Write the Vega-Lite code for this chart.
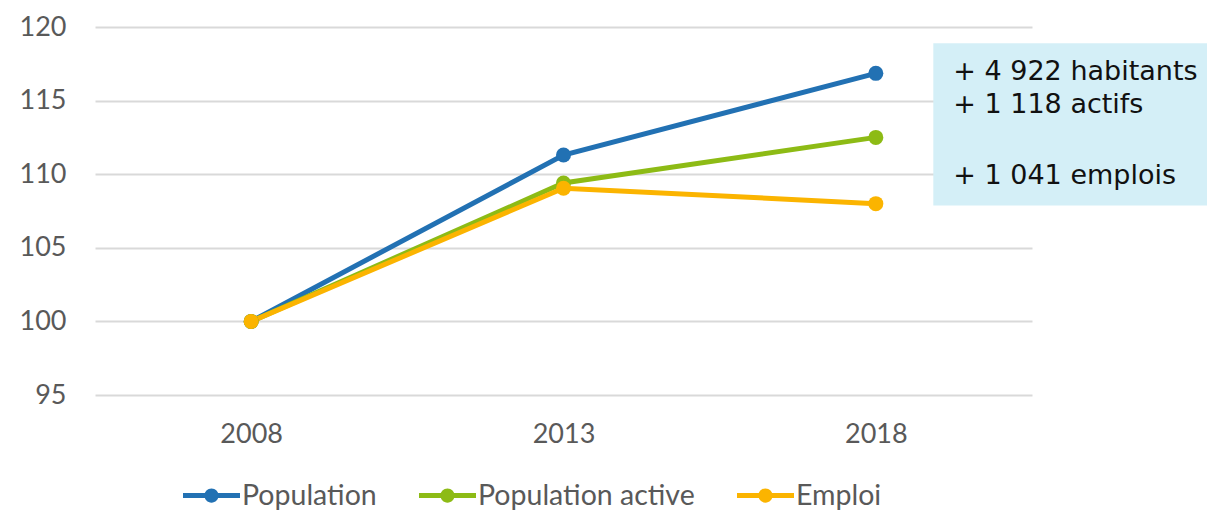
{
  "$schema": "https://vega.github.io/schema/vega-lite/v6.json",
  "width": 937,
  "height": 368,
  "autosize": {"type": "none"},
  "padding": {"left": 95, "top": 27, "right": 175, "bottom": 116},
  "background": "white",
  "config": {
    "view": {"stroke": null},
    "font": "Lato"
  },
  "datasets": {
    "series": [
      {"annee": 2008, "serie": "Population", "indice": 100},
      {"annee": 2013, "serie": "Population", "indice": 111.3},
      {"annee": 2018, "serie": "Population", "indice": 116.85},
      {"annee": 2008, "serie": "Population active", "indice": 100},
      {"annee": 2013, "serie": "Population active", "indice": 109.4},
      {"annee": 2018, "serie": "Population active", "indice": 112.5},
      {"annee": 2008, "serie": "Emploi", "indice": 100},
      {"annee": 2013, "serie": "Emploi", "indice": 109.05},
      {"annee": 2018, "serie": "Emploi", "indice": 108.0}
    ],
    "box": [
      {"x1": 2018.92, "x2": 2023.6, "y1": 107.88, "y2": 118.9}
    ],
    "notes": [
      {"x": 2019.24, "y": 116.92, "texte": "+ 4 922 habitants"},
      {"x": 2019.24, "y": 114.67, "texte": "+ 1 118 actifs"},
      {"x": 2019.24, "y": 109.85, "texte": "+ 1 041 emplois"}
    ]
  },
  "layer": [
    {
      "data": {"name": "box"},
      "mark": {"type": "rect", "fill": "#D4EFF7", "clip": false},
      "encoding": {
        "x": {"field": "x1", "type": "quantitative", "scale": {"domain": [2005.5, 2020.5], "nice": false, "zero": false},
          "axis": {"values": [2008, 2013, 2018], "format": "d", "title": null, "grid": false, "domain": false, "ticks": false,
            "labelFontSize": 27, "labelColor": "#595959", "labelPadding": 26, "labelFont": "Lato"}},
        "x2": {"field": "x2"},
        "y": {"field": "y1", "type": "quantitative", "scale": {"domain": [95, 120], "nice": false, "zero": false},
          "axis": {"values": [95, 100, 105, 110, 115, 120], "title": null, "grid": true, "gridColor": "#d9d9d9", "gridWidth": 2,
            "domain": false, "ticks": false, "labelFontSize": 27, "labelColor": "#595959", "labelPadding": 29, "labelFont": "Lato"}},
        "y2": {"field": "y2"}
      }
    },
    {
      "data": {"name": "notes"},
      "mark": {"type": "text", "align": "left", "baseline": "middle", "font": "DejaVu Sans", "fontSize": 27, "color": "#111111", "clip": false},
      "encoding": {
        "x": {"field": "x", "type": "quantitative"},
        "y": {"field": "y", "type": "quantitative"},
        "text": {"field": "texte"}
      }
    },
    {
      "data": {"name": "series"},
      "mark": {"type": "line", "strokeWidth": 5},
      "encoding": {
        "x": {"field": "annee", "type": "quantitative"},
        "y": {"field": "indice", "type": "quantitative"},
        "color": {"field": "serie", "type": "nominal", "sort": ["Population", "Population active", "Emploi"],
          "scale": {"domain": ["Population", "Population active", "Emploi"], "range": ["#2271B3", "#8DBB15", "#FBB400"]},
          "legend": {"title": null, "orient": "none", "direction": "horizontal", "legendX": 88, "legendY": 440,
            "symbolType": "M-1,-0.088H1V0.088H-1Z M0.25,0A0.25,0.25,0,1,1,-0.25,0A0.25,0.25,0,1,1,0.25,0Z",
            "symbolSize": 3249, "symbolStrokeWidth": 0, "labelFontSize": 28.5, "labelColor": "#595959", "labelFont": "Lato",
            "labelOffset": 2, "labelLimit": 0, "columnPadding": 42, "padding": 0}}
      }
    },
    {
      "data": {"name": "series"},
      "mark": {"type": "point", "filled": true, "size": 225, "opacity": 1},
      "encoding": {
        "x": {"field": "annee", "type": "quantitative"},
        "y": {"field": "indice", "type": "quantitative"},
        "color": {"field": "serie", "type": "nominal", "sort": ["Population", "Population active", "Emploi"]}
      }
    }
  ]
}
